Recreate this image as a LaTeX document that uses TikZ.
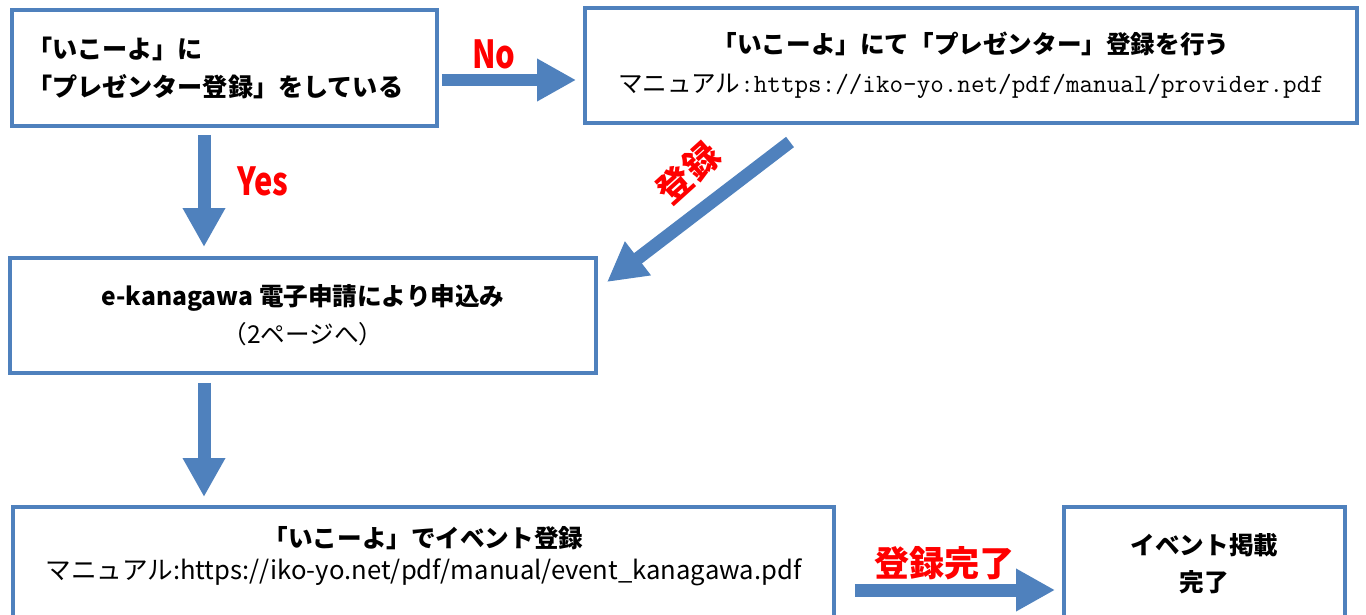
\documentclass[tikz,border=0pt]{standalone}
\usepackage{fontspec}
\setmainfont{Noto Sans CJK JP}
\newfontfamily\narrowfont[FakeStretch=0.8]{Noto Sans CJK JP}
\usepackage{xcolor}
\usetikzlibrary{arrows.meta,positioning}
\definecolor{boxblue}{HTML}{4F81BD}
\tikzset{
	box/.style={draw=boxblue, line width=0.08cm, fill=white, inner sep=0pt},
	blockarrow/.style={draw=boxblue, line width=0.26cm, -{Triangle[width=0.8cm,length=0.78cm]}},
	redlabel/.style={red, font=\narrowfont\bfseries\fontsize{22}{22}\selectfont},
	redtag/.style={red, font=\bfseries\fontsize{20}{20}\selectfont}
}

\begin{document}
\begin{tikzpicture}[x=0.02cm, y=-0.02cm]
		\useasboundingbox (0,0) rectangle (1366,615);
		\clip (0,0) rectangle (1366,615);
		\node[box, minimum width=8.5cm, minimum height=2.32cm, text width=7.9cm, align=left, font=\bfseries\fontsize{14.3}{21.6}\selectfont] (present) at (224.5,68) {「いこーよ」に\\「プレゼンター登録」をしている};
		\node[box, minimum width=15.44cm, minimum height=2.3cm, align=center, font=\fontsize{14}{22}\selectfont] (provider) at (971,65.5) {{\bfseries 「いこーよ」にて「プレゼンター」登録を行う}\\マニュアル{\ttfamily\fontsize{15}{22}\selectfont :https://iko-yo.net/pdf/manual/provider.pdf}};
		\node[box, minimum width=11.72cm, minimum height=2.3cm, align=center, font=\fontsize{14}{21.6}\selectfont] (apply) at (303,315.5) {{\bfseries e-kanagawa 電子申請により申込み}\\（2ページへ）};
		\node[box, minimum width=16.42cm, minimum height=3.6cm, anchor=north] (event) at (423.5,505) {};
		\node[align=center, font=\fontsize{14}{18.2}\selectfont, below=0.3cm of event.north] (eventtext) {{\bfseries 「いこーよ」でイベント登録}\\{\fontsize{14.6}{18.2}\selectfont マニュアル:https://iko-yo.net/pdf/manual/event\_kanagawa.pdf}};
		\node[box, minimum width=5.62cm, minimum height=3.6cm, anchor=north] (listed) at (1204.5,505) {};
		\node[align=center, font=\bfseries\fontsize{14}{21}\selectfont, below=0.45cm of listed.north] (listedtext) {イベント掲載\\完了};
		\coordinate (stem) at (204,0);
		\coordinate (norow) at (0,80);
		\coordinate (donerow) at (0,590);
		\coordinate (regtail) at (790,142);
		\coordinate (reghead) at (607,282);
		\draw[blockarrow, shorten <=0.06cm, shorten >=0.14cm] (present.east |- norow) -- (provider.west |- norow) node[redlabel, pos=0.38, yshift=0.52cm] {No};
		\draw[blockarrow, shorten <=0.14cm, shorten >=0.18cm] (present.south -| stem) -- (apply.north -| stem) node[redlabel, pos=0.42, xshift=1.18cm] {Yes};
		\draw[blockarrow] (regtail) -- (reghead) node[redtag, pos=0.42, xshift=-0.5cm, yshift=0.56cm, rotate=42] {登録};
		\draw[blockarrow, shorten <=0.16cm, shorten >=0.16cm] (apply.south -| stem) -- (event.north -| stem);
		\draw[blockarrow, shorten <=0.38cm, shorten >=0.14cm] (event.east |- donerow) -- (listed.west |- donerow) node[redtag, pos=0.48, yshift=0.54cm] {登録完了};
	\end{tikzpicture}
\end{document}
